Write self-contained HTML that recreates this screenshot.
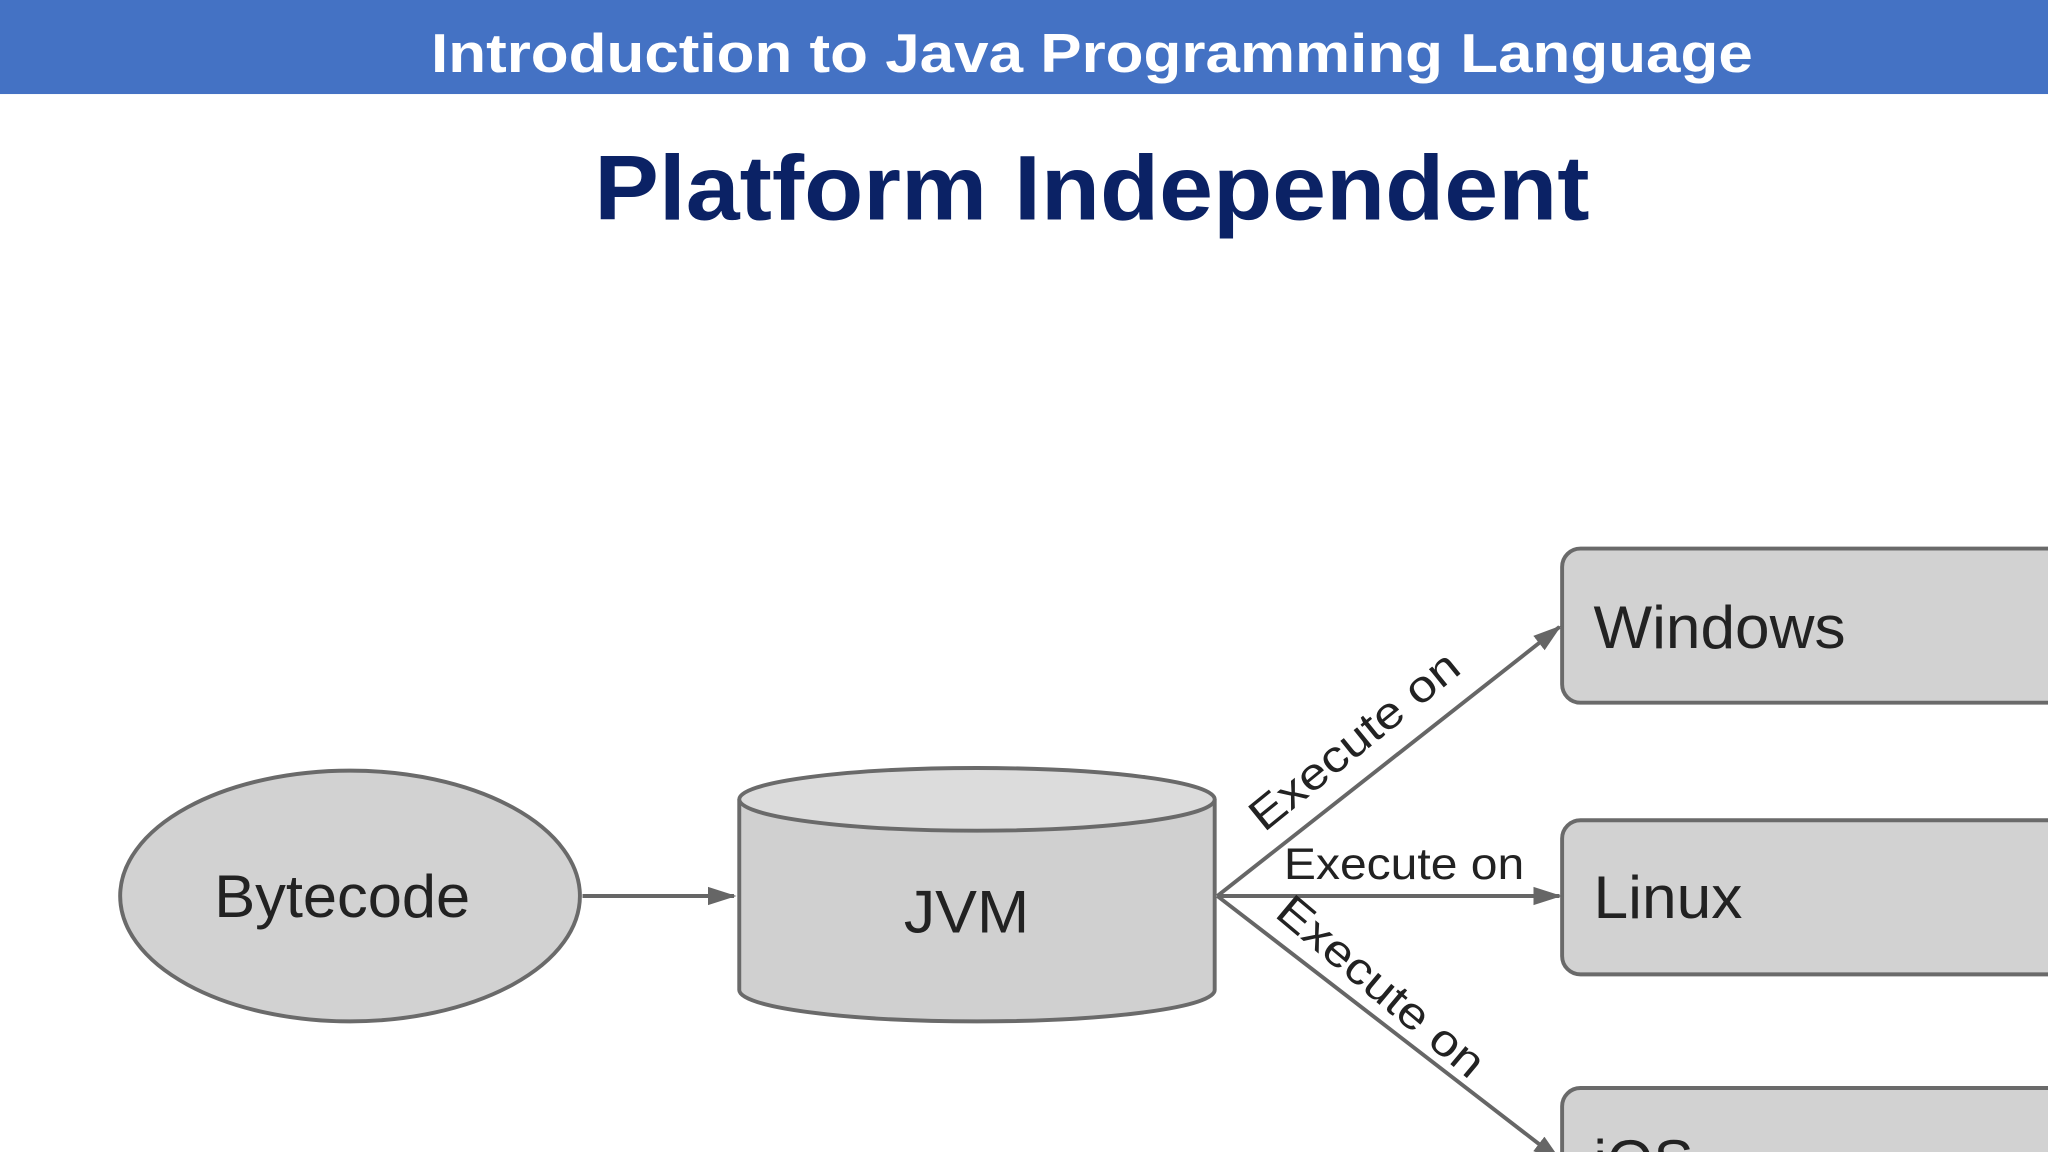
<!DOCTYPE html>
<html><head><style>html,body{margin:0;padding:0;background:#fff;overflow:hidden;width:2048px;height:1152px}svg{display:block}</style></head>
<body>
<svg width="2048" height="1152" viewBox="0 0 1568 882" preserveAspectRatio="none" xmlns="http://www.w3.org/2000/svg">
<defs><marker id="a" markerWidth="22" markerHeight="16" refX="20" refY="8" orient="auto" markerUnits="userSpaceOnUse"><path d="M0,1 L22,8 L0,15 z" fill="#666"/></marker></defs>
<rect x="0" y="0" width="1568" height="72" fill="#4472C4"/>
<text x="836" y="55" text-anchor="middle" font-family="Liberation Sans, sans-serif" font-weight="bold" font-size="42" fill="#fff" textLength="1012" lengthAdjust="spacingAndGlyphs">Introduction to Java Programming Language</text>
<text x="836" y="168" text-anchor="middle" font-family="Liberation Sans, sans-serif" font-weight="bold" font-size="70" fill="#0B2265" textLength="762" lengthAdjust="spacingAndGlyphs">Platform Independent</text>
<g font-family="Liberation Sans, sans-serif" fill="#222">
<ellipse cx="268" cy="686" rx="176" ry="96" fill="#d2d2d2" stroke="#6a6a6a" stroke-width="3"/>
<text x="262" y="702" text-anchor="middle" font-size="46" textLength="196" lengthAdjust="spacingAndGlyphs">Bytecode</text>
<line x1="446" y1="686" x2="562" y2="686" stroke="#666" stroke-width="3" marker-end="url(#a)"/>
<path d="M566,612 L566,758 A182,24 0 0 0 930,758 L930,612" fill="#d0d0d0" stroke="#6a6a6a" stroke-width="3"/>
<ellipse cx="748" cy="612" rx="182" ry="24" fill="#dcdcdc" stroke="#6a6a6a" stroke-width="3"/>
<text x="740" y="714" text-anchor="middle" font-size="46" textLength="96" lengthAdjust="spacingAndGlyphs">JVM</text>
<rect x="1196" y="420" width="400" height="118" rx="14" fill="#d2d2d2" stroke="#6a6a6a" stroke-width="3"/>
<text x="1220" y="496" font-size="46" textLength="193" lengthAdjust="spacingAndGlyphs">Windows</text>
<rect x="1196" y="628" width="400" height="118" rx="14" fill="#d2d2d2" stroke="#6a6a6a" stroke-width="3"/>
<text x="1220" y="703" font-size="46" textLength="114" lengthAdjust="spacingAndGlyphs">Linux</text>
<rect x="1196" y="833" width="400" height="118" rx="14" fill="#d2d2d2" stroke="#6a6a6a" stroke-width="3"/>
<text x="1220" y="905" font-size="46">iOS</text>
<line x1="932" y1="686" x2="1194" y2="480" stroke="#666" stroke-width="3" marker-end="url(#a)"/>
<line x1="932" y1="686" x2="1194" y2="686" stroke="#666" stroke-width="3" marker-end="url(#a)"/>
<line x1="932" y1="686" x2="1194" y2="888" stroke="#666" stroke-width="3" marker-end="url(#a)"/>
<text x="1075" y="673" text-anchor="middle" font-size="34" textLength="184" lengthAdjust="spacingAndGlyphs">Execute on</text>
<text transform="translate(1044,576) rotate(-39)" text-anchor="middle" font-size="34" textLength="196" lengthAdjust="spacingAndGlyphs">Execute on</text>
<text transform="translate(1050,764) rotate(40)" text-anchor="middle" font-size="34" textLength="196" lengthAdjust="spacingAndGlyphs">Execute on</text>
</g>
</svg>
</body></html>
